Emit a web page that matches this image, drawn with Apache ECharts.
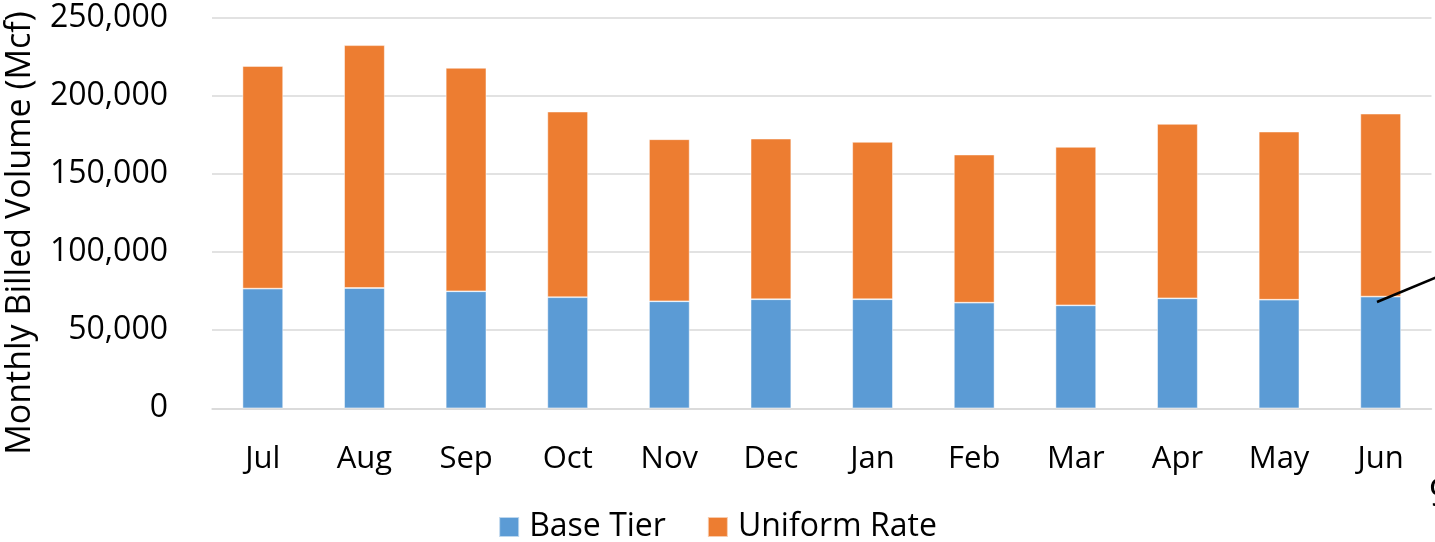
<!DOCTYPE html>
<html>
<head>
<meta charset="utf-8">
<title>Monthly Billed Volume</title>
<script src="https://cdn.jsdelivr.net/npm/echarts@6/dist/echarts.min.js"></script>
<style>
  html, body { margin: 0; padding: 0; background: #fff; }
  #chart { width: 1435px; height: 542px; }
</style>
</head>
<body>
<div id="chart"></div>
<script>
const months = ['Jul', 'Aug', 'Sep', 'Oct', 'Nov', 'Dec', 'Jan', 'Feb', 'Mar', 'Apr', 'May', 'Jun']
const baseTier = [76600, 77000, 74900, 71100, 68500, 69800, 69800, 67600, 65900, 70400, 69500, 71500]
const uniformRate = [142500, 155400, 143000, 118800, 103700, 102800, 100700, 94800, 101400, 111600, 107600, 117100]
const yTicks = [0, 50000, 100000, 150000, 200000, 250000]

const fontFamily = '"Open Sans", "Liberation Sans", sans-serif'
const textColor = '#000'

const chart = echarts.init(document.getElementById('chart'))

const option = {
  animation: false,
  color: ['#5B9BD5', '#ED7D31'],
  textStyle: { fontFamily: fontFamily },
  grid: {
    left: 212,
    right: 3.5,
    top: 17.7,
    bottom: 133.7
  },
  legend: {
    top: 506,
    left: 'center',
    itemWidth: 20,
    itemHeight: 20,
    itemGap: 41,
    icon: 'rect',
    textStyle: { fontSize: 32, color: textColor, fontFamily: fontFamily, padding: [0, 0, 0, 5] },
    data: ['Base Tier', 'Uniform Rate']
  },
  xAxis: {
    type: 'category',
    data: months,
    axisLine: { show: true, lineStyle: { color: '#d9d9d9', width: 1.5 } },
    axisTick: { show: false },
    axisLabel: { color: textColor, fontSize: 31, margin: 35, fontFamily: fontFamily }
  },
  yAxis: {
    type: 'value',
    min: yTicks[0],
    max: yTicks[yTicks.length - 1],
    interval: yTicks[1] - yTicks[0],
    axisLine: { show: false },
    axisTick: { show: false },
    splitLine: { lineStyle: { color: '#d9d9d9', width: 1.5 } },
    axisLabel: {
      color: textColor,
      fontSize: 32,
      margin: 44,
      fontFamily: fontFamily,
      formatter: v => v.toLocaleString('en-US')
    }
  },
  series: [
    {
      name: 'Base Tier',
      type: 'bar',
      stack: 'total',
      barWidth: '40%',
      data: baseTier,
      itemStyle: { borderColor: 'rgba(255,255,255,0.6)', borderWidth: 0.8 }
    },
    {
      name: 'Uniform Rate',
      type: 'bar',
      stack: 'total',
      barWidth: '40%',
      data: uniformRate,
      itemStyle: { borderColor: 'rgba(255,255,255,0.6)', borderWidth: 0.8 }
    }
  ],
  graphic: [
    {
      type: 'text',
      x: 20,
      y: 233,
      rotation: Math.PI / 2,
      style: {
        text: 'Monthly Billed Volume (Mcf)',
        fontSize: 34,
        fontFamily: fontFamily,
        fill: textColor,
        align: 'center',
        verticalAlign: 'middle'
      }
    },
    // callout leader line and clipped label at the right edge
    {
      type: 'line',
      z: 100,
      shape: { x1: 1377, y1: 302, x2: 1437, y2: 277 },
      style: { stroke: '#000', lineWidth: 2.5 }
    },
    {
      type: 'text',
      z: 100,
      x: 1429,
      y: 476,
      style: { text: '9', fontSize: 38, fontFamily: fontFamily, fill: textColor }
    }
  ]
}

chart.setOption(option)
</script>
</body>
</html>
